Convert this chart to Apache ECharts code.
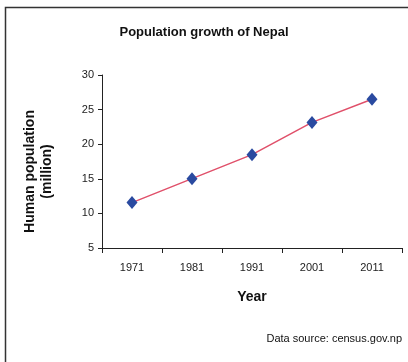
<!DOCTYPE html>
<html>
<head>
<meta charset="utf-8">
<script src="https://cdn.jsdelivr.net/npm/echarts@6/dist/echarts.min.js"></script>
<style>
  html, body { margin: 0; padding: 0; background: #fff; }
  #chart { width: 408px; height: 362px; }
</style>
</head>
<body>
<div id="chart"></div>
<script>
// Census years and population (millions)
const years = ['1971', '1981', '1991', '2001', '2011'];
const population = [11.56, 15.02, 18.49, 23.15, 26.49];

const chart = echarts.init(document.getElementById('chart'), null, { renderer: 'canvas' });
const font = 'Arial, "Liberation Sans", sans-serif';

chart.setOption({
  backgroundColor: '#ffffff',
  animation: false,
  title: {
    text: 'Population growth of Nepal',
    left: 'center',
    top: 21,
    textStyle: { fontFamily: font, fontSize: 13, fontWeight: 'bold', color: '#111', letterSpacing: -0.5 }
  },
  graphic: [
    {
      type: 'rect',
      shape: { x: 5.5, y: 7.5, width: 420, height: 380 },
      style: { fill: 'none', stroke: '#333', lineWidth: 1.5 },
      silent: true
    },
    {
      type: 'text',
      right: 6,
      top: 333,
      style: { text: 'Data source: census.gov.np', font: '11px ' + font, fill: '#111' }
    }
  ],
  grid: { left: 102, top: 75, right: 6, bottom: 114, containLabel: false },
  xAxis: {
    type: 'category',
    data: years,
    boundaryGap: true,
    name: 'Year',
    nameLocation: 'middle',
    nameGap: 42,
    nameTextStyle: { fontFamily: font, fontSize: 14, fontWeight: 'bold', color: '#111' },
    axisLine: { lineStyle: { color: '#222', width: 1 } },
    axisTick: { show: true, inside: false, length: 5, alignWithLabel: false, lineStyle: { color: '#222' } },
    axisLabel: { fontFamily: font, fontSize: 11, color: '#222', margin: 14 },
    splitLine: { show: false }
  },
  yAxis: {
    type: 'value',
    min: 5,
    max: 30,
    interval: 5,
    name: 'Human population\n(million)',
    nameLocation: 'middle',
    nameGap: 46,
    nameRotate: 90,
    nameTextStyle: { fontFamily: font, fontSize: 14, fontWeight: 'bold', color: '#111', lineHeight: 17, letterSpacing: -0.3, padding: [0, 20, 0, 0] },
    axisLine: { show: true, lineStyle: { color: '#222', width: 1 } },
    axisTick: { show: true, inside: false, length: 4, lineStyle: { color: '#222' } },
    axisLabel: { fontFamily: font, fontSize: 11, color: '#222', margin: 8 },
    splitLine: { show: false }
  },
  series: [{
    type: 'line',
    data: population,
    symbol: 'diamond',
    symbolSize: [11, 13],
    lineStyle: { color: '#e0506a', width: 1.5 },
    itemStyle: { color: '#2a4aa0', borderWidth: 0 }
  }]
});
</script>
</body>
</html>
